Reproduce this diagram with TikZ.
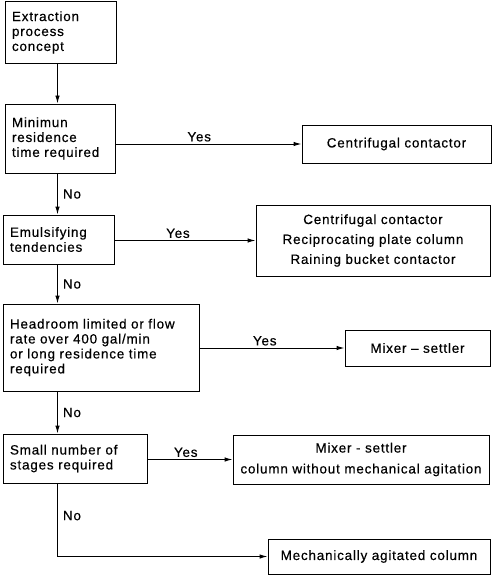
\documentclass[tikz,border=0pt]{standalone}
\usepackage{fontspec}
\setmainfont{Liberation Sans}[LetterSpace=6, FakeBold=0.4]
\usetikzlibrary{arrows.meta}

\tikzset{
	qbox/.style={draw, line width=1pt, inner xsep=7bp, inner ysep=0pt, align=left,
		font=\fontsize{13.5}{15}\selectfont},
	abox/.style={draw, line width=1pt, inner sep=0pt, align=center,
		font=\fontsize{13.5}{15}\selectfont},
	flow/.style={line width=1pt, -{Latex[length=8bp,width=4.5bp]}},
	lbl/.style={font=\fontsize{13.5}{15}\selectfont, inner sep=2bp}
}

\begin{document}
\begin{tikzpicture}[x=1bp, y=-1bp]
			%%%%% START %%%%%
			
			\useasboundingbox[fill=white] (0, 0) rectangle (494, 578);
			\coordinate (trunk) at (57.5, 0);
			
			%%%%% QUESTIONS %%%%%
			\node[qbox, text width=97bp, minimum height=61bp] (concept) at (60.5, 32.5) {Extraction\\process\\concept};
			\node[qbox, text width=96bp, minimum height=69bp] (residence) at (60, 138.5) {Minimun\\residence\\time required};
			\node[qbox, text width=97bp, minimum height=49bp] (emulsify) at (58.5, 239.5) {Emulsifying\\tendencies};
			\node[qbox, text width=182bp, minimum height=87bp] (headroom) at (101, 347.5) {Headroom limited or flow\\rate over 400 gal/min\\or long residence time\\required};
			\node[qbox, text width=130bp, minimum height=49bp] (stages) at (75, 458.5) {Small number of\\stages required};
			
			%%%%% ANSWERS %%%%%
			\node[abox, minimum width=189bp, minimum height=38bp] (centri) at (396.5, 144) {Centrifugal contactor};
			\node[abox, minimum width=234bp, minimum height=71bp, font=\fontsize{13.5}{20}\selectfont] (threeway) at (373, 240.5) {Centrifugal contactor\\Reciprocating plate column\\Raining bucket contactor};
			\node[abox, minimum width=145bp, minimum height=36bp] (mixer) at (417.5, 348) {Mixer -- settler};
			\node[abox, minimum width=256bp, minimum height=49bp, font=\fontsize{13.5}{21}\selectfont] (nomech) at (361, 459.5) {Mixer - settler\\column without mechanical agitation};
			\node[abox, minimum width=222bp, minimum height=35bp] (agitated) at (379, 556.5) {Mechanically agitated column};
			
			%%%%% NO BRANCH %%%%%
			\draw[flow] (concept.south -| trunk) -- (residence.north -| trunk);
			\draw[flow] (residence.south -| trunk) -- node[lbl, right, xshift=3bp] {No} (emulsify.north -| trunk);
			\draw[flow] (emulsify.south -| trunk) -- node[lbl, right, xshift=3bp] {No} (headroom.north -| trunk);
			\draw[flow] (headroom.south -| trunk) -- node[lbl, right, xshift=3bp] {No} (stages.north -| trunk);
			\draw[flow] (stages.south -| trunk) |- node[lbl, right, xshift=3bp, pos=0.22] {No} (agitated.west);
			
			%%%%% YES BRANCH %%%%%
			\draw[flow] (residence.east |- centri.west) -- node[lbl, above, pos=0.45] {Yes} (centri.west);
			\draw[flow] (emulsify.east |- threeway.west) -- node[lbl, above, pos=0.45] {Yes} (threeway.west);
			\draw[flow] (headroom.east |- mixer.west) -- node[lbl, above, pos=0.45] {Yes} (mixer.west);
			\draw[flow] (stages.east |- nomech.west) -- node[lbl, above, pos=0.45] {Yes} (nomech.west);
			
			%%%%% END %%%%%
\end{tikzpicture}
\end{document}
